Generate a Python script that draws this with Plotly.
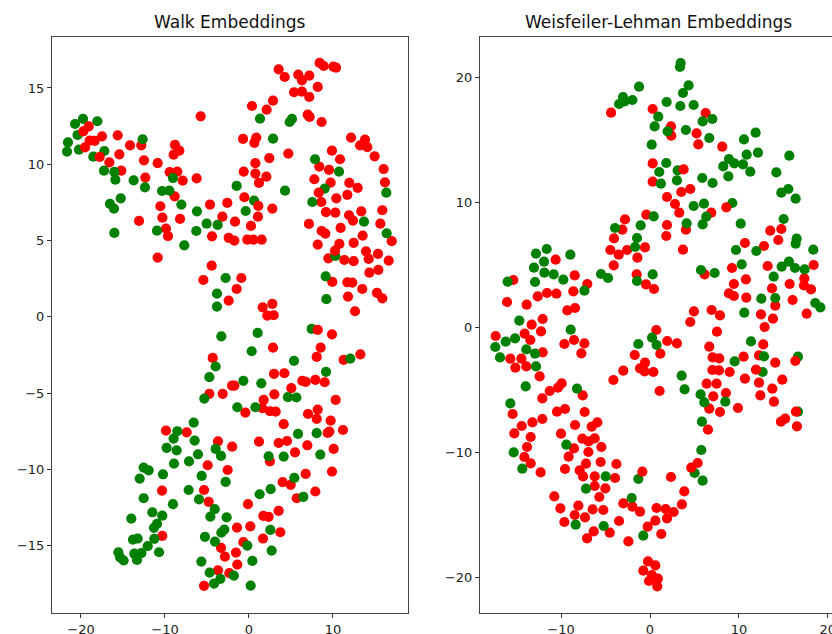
import plotly.graph_objects as go

# ---- Walk Embeddings ----
walk_red_x = [-5.75,-15.63,-18.97,-18.37,-17.5,-14.16,-12.82,-15.43,-16.62,-15.2,-12.5,-10.87,-8.81,-8.29,-8.97,-9.44,-8.53,-7.89,-6.23,-12.34,-8.85,-10.55,-10.31,-8.21,-13.09,-9.88,-9.64,-4.64,-2.58,-3.17,-4.4,-2.42,
 3.53,4.25,5.87,7.18,6.31,8.41,8.89,10.04,10.36,8.18,5.36,6.31,7.18,2.86,0.36,2.1,6.99,7.22,8.65,-0.71,0.87,0.64,4.68,2.42,0.76,-0.63,0.76,2.07,1.19,12.15,13.81,13.22,14.09,9.88,10.84,14.96,16.03,16.19,8.37,9.53,7.78,9.72,11.95,12.94,11.71,10.4,8.61,-0.55,1.07,2.78,-1.66,0.24,9.17,10.28,13.37,15.87,11.91,12.38,15.64,7.14,10.91,8.65,9.09,13.53,-0.2,0.52,1.51,-1.74,
 -10.87,-4.44,-5.43,-2.42,-4.32,-4.72,-3.13,-2.02,
 8.18,10.76,12.46,13.93,15.36,16.99,9.45,11.35,12.46,14.25,16.63,-0.91,14.33,15.4,9.92,11.71,12.3,13.49,-1.47,11.79,15.24,15.87,12.62,1.63,2.78,2.18,2.94,9.88,8.53,2.86,8.06,11.27,13.26,2.98,4.21,6.35,6.75,7.9,9.01,-1.74,5.04,3.02,1.75,10.32,-0.43,1.59,2.5,3.18,8.18,7.03,8.06,9.72,4.13,
 -9.88,-7.42,-3.69,-2.0,-4.92,-2.54,-10.35,-5.35,-4.8,-10.32,-3.33,-2.86,-3.69,-2.34,-5.35,
 11.19,9.57,9.37,1.19,3.53,4.53,6.95,5.48,10.08,2.5,6.75,9.88,4.01,4.96,7.9,5.68,-0.12,3.53,1.71,2.34,-1.43,0.16,3.73,1.67,-0.67,-1.55,-1.39]
walk_red_y = [13.14,11.9,11.55,11.53,11.83,11.24,11.24,10.65,10.13,9.58,10.26,10.07,11.27,10.89,10.63,9.48,9.52,8.93,9.08,9.13,7.9,7.25,6.5,6.42,6.29,5.79,5.3,7.36,7.47,6.57,5.28,5.18,
 16.22,15.72,15.87,15.81,15.5,16.64,16.44,16.4,16.33,15.07,14.72,14.76,14.41,14.17,13.82,13.58,13.25,13.1,12.77,11.66,11.75,11.4,10.7,10.41,10.07,9.52,9.39,9.19,8.78,11.75,11.62,11.24,11.13,10.89,10.33,10.52,9.69,8.82,9.85,9.63,9.02,8.8,8.78,8.45,7.99,7.77,7.53,7.84,6.57,7.1,6.24,5.96,6.86,6.83,6.92,6.99,6.66,6.31,6.11,6.09,5.83,5.63,5.46,5.33,5.06,5.06,5.06,5.0,
 3.89,3.36,2.42,1.07,-2.69,-5.04,-5.04,-4.5,
 4.74,4.78,4.85,4.3,4.13,4.96,3.84,3.73,3.65,3.8,3.69,2.55,2.9,3.08,2.29,2.27,2.25,1.83,1.83,1.33,1.57,1.22,0.37,0.63,0.85,0.09,0.11,-1.14,-2.01,-2.01,-2.62,-2.82,-2.45,-3.73,-3.69,-4.19,-4.26,-4.13,-4.28,-4.5,-4.67,-5.07,-5.44,-5.44,-6.27,-5.98,-6.18,-6.2,-6.07,-6.36,-6.68,-6.79,-7.03,
 -7.45,-7.56,-8.15,-8.5,-9.72,-10.03,-11.38,-11.34,-12.12,-14.35,-15.13,-15.7,-16.6,-16.79,-17.62,
 -7.41,-7.51,-7.6,-8.17,-8.26,-8.13,-8.41,-8.87,-8.65,-9.46,-10.29,-10.13,-10.83,-11.0,-11.44,-11.88,-12.27,-12.71,-13.04,-13.1,-13.8,-13.72,-14.11,-14.52,-14.76,-15.44,-16.23]
walk_green_x = [-19.76,-20.71,-18.05,-20.4,-21.55,-21.66,-20.24,-18.53,-17.22,-12.66,-17.26,-16.03,-15.91,-13.73,-12.38,-10.35,-9.48,-9.05,-8.05,-6.19,-5.04,-3.73,-6.27,-10.95,-16.03,-15.27,-16.55,-16.07,
 1.31,5.12,4.84,2.86,7.86,10.72,-1.47,4.29,9.01,7.54,0.6,-0.39,16.35,13.69,16.39,
 -7.7,-2.78,-3.81,-3.81,-3.29,-3.97,-4.72,-5.32,-6.58,
 10.28,9.13,9.21,1.03,0.32,7.46,5.36,12.07,9.17,-0.67,1.47,4.64,5.64,-1.39,0.76,
 -8.53,-8.97,-6.47,-9.8,-8.61,-6.07,-3.97,-3.33,-7.14,-8.93,-12.54,-11.94,-10.24,-13.01,-5.63,-2.78,-7.18,-5.95,-12.54,-9.05,-11.5,-10.32,-14.01,-4.08,-4.6,-2.66,-10.95,-11.31,-2.93,-3.29,-5.24,-4.05,-13.81,-13.25,-11.27,-12.06,-10.71,-15.55,-13.65,-12.81,-15.35,-14.92,-13.33,-5.67,-4.68,-3.41,-4.16,-1.8,
 5.84,8.06,2.34,4.13,8.49,5.4,2.58,1.27,6.47,2.54,-0.2,2.7,0.4,0.2]
walk_green_y = [12.97,12.64,12.82,11.92,11.44,10.83,10.96,10.5,10.87,11.64,9.58,9.5,8.99,8.95,8.49,8.25,8.28,9.1,7.36,6.92,6.11,6.03,5.63,5.65,5.5,7.77,7.4,7.1,
 12.99,12.97,12.77,11.68,10.33,9.52,8.58,8.27,8.41,7.53,7.62,6.94,8.14,6.24,5.48,
 4.69,2.55,1.53,0.68,-1.27,-3.25,-3.95,-5.35,-6.92,
 3.99,2.66,1.16,-1.05,-2.25,-0.79,-2.88,-2.73,-3.6,-4.19,-4.35,-5.26,-5.28,-5.92,-5.92,
 -7.49,-7.97,-8.1,-8.58,-8.74,-9.0,-8.65,-9.11,-9.46,-9.61,-9.87,-10.05,-10.31,-10.59,-10.42,-10.81,-11.34,-11.95,-11.88,-12.27,-12.8,-13.02,-13.21,-12.6,-13.08,-13.13,-13.56,-13.82,-13.93,-14.13,-14.41,-14.72,-14.59,-14.52,-14.54,-15.02,-15.42,-15.42,-15.51,-15.48,-15.75,-15.96,-15.92,-16.03,-16.75,-17.17,-17.47,-16.95,
 -7.67,-7.62,-9.13,-9.15,-9.02,-10.55,-11.29,-11.62,-11.79,-13.96,-14.98,-15.31,-15.99,-17.6]
walk_top_x = [-19.08,-19.72,-19.52,-17.77,8.3,1.11,8.18,10.24]
walk_top_y = [12.49,12.16,11.11,10.48,8.14,7.27,-0.85,4.34]

# ---- Weisfeiler-Lehman Embeddings ----
wl_red_x = [-4.38,0.3,0.3,0.3,-0.41,-2.81,-3.11,
 6.26,2.36,2.39,5.24,5.43,8.13,4.53,3.52,1.91,2.81,3.29,6.89,1.91,4.04,1.83,13.53,14.77,
 -4.05,-4.46,-3.52,-2.58,-0.56,-1.42,-4.08,-10.61,-8.47,-7.05,-15.37,-1.5,-0.45,0.45,-8.62,-10.53,-11.58,-12.63,-16.08,-13.87,-8.43,-9.3,-12.07,-13.31,-12.26,-14.1,-17.36,-13.46,-9.63,-8.55,-7.38,-12.07,-7.72,-1.72,-15.71,-14.47,-15.14,-13.91,-0.56,-1.12,-0.6,0.38,-3.0,-4.12,-12.41,-9.93,-10.35,-11.28,-12.11,-7.57,-9.56,-10.46,-7.35,-15.45,-12.11,-13.23,-14.43,-5.92,-8.43,-6.56,
 3.71,10.68,12.82,14.43,9.22,13.23,18.41,6.14,10.79,9.44,17.36,15.71,17.32,18.11,13.72,8.88,9.44,10.83,16.04,14.09,17.62,4.94,6.93,7.87,4.53,12.48,13.83,12.89,7.53,0.71,1.94,3.03,1.16,6.67,12.74,7.04,7.79,10.53,12.26,14.09,7.01,7.76,8.96,1.08,6.37,7.49,10.68,12.26,14.88,8.54,7.12,13.76,12.41,13.94,6.67,7.87,9.89,15.2,14.73,16.53,
 -15.26,-10.01,-13.42,-7.61,-6.9,-6.22,-5.47,-13.83,-8.55,-6.93,-14.13,-9.15,-13.42,-7.2,-5.55,-3.78,-12.3,-9.56,-7.91,-7.53,-6.22,-3.93,-6.22,-5.02,-10.76,-5.7,-8.06,-3.0,-1.98,-1.12,-10.08,-6.45,-5.25,-8.47,-7.31,-3.48,-9.63,-0.26,-6.33,-4.53,-7.08,-2.43,-0.22,-0.75,-0.11,
 6.52,2.36,3.86,3.59,0.74,1.76,2.66,1.91,0.6,1.27,0.6,0.89,0.22,0.82]
wl_red_y = [17.15,17.44,13.09,11.63,8.99,8.61,7.79,
 17.12,16.05,15.31,15.49,14.61,14.43,11.04,10.8,10.4,9.84,9.15,9.15,8.16,7.79,7.28,7.71,7.84,
 7.09,6.16,5.79,6.16,6.37,5.55,4.93,5.39,4.13,3.44,3.76,4.21,3.41,3.04,2.85,2.67,2.72,2.45,2.0,1.79,1.52,1.33,0.64,0.19,-0.35,-0.53,-0.72,-1.04,-1.36,-1.04,-1.31,-2.03,-2.11,-2.24,-2.53,-2.53,-3.25,-3.15,-2.85,-3.31,-3.55,-3.6,-3.49,-4.24,-3.95,-4.51,-4.85,-5.12,-5.71,-5.47,-6.56,-6.77,-6.8,-6.96,-7.36,-7.63,-7.92,-7.63,-7.84,-7.97,
 6.19,6.72,6.48,6.96,4.72,4.88,4.96,4.21,3.81,3.44,3.89,3.44,3.33,3.01,3.09,2.69,2.48,2.35,2.16,1.71,1.07,1.25,1.36,0.93,0.4,1.01,0.67,0,-0.37,-0.24,-1.12,-1.31,-2.13,-1.57,-1.39,-2.43,-2.51,-2.37,-2.27,-2.85,-3.44,-3.47,-3.6,-5.12,-4.53,-4.53,-4.13,-4.45,-4.21,-5.28,-5.55,-4.93,-5.47,-5.97,-6.53,-6.8,-6.48,-7.33,-7.57,-7.95,
 -8.51,-8.53,-8.8,-8.93,-9.15,-8.91,-9.6,-9.6,-9.71,-10.0,-10.4,-10.37,-10.91,-10.93,-10.8,-10.96,-11.63,-11.36,-11.47,-11.95,-11.95,-12.08,-12.72,-12.91,-13.55,-13.6,-14.29,-14.11,-14.37,-14.77,-14.51,-14.59,-14.64,-15.04,-15.23,-15.52,-15.6,-15.97,-16.35,-16.45,-16.91,-17.15,-18.75,-19.49,-20.32,
 -8.21,-12.0,-13.15,-14.19,-14.48,-14.56,-14.8,-15.31,-15.49,-16.56,-19.07,-20.13,-19.84,-20.75]
wl_green_x = [-1.23,-3.03,-2.85,-3.48,-1.98,0.19,0.42,-1.05,-3.93,-1.46,
 3.45,3.37,4.34,3.71,1.87,3.41,4.91,0.93,0.52,7.01,5.92,4.04,1.98,6.67,11.88,10.57,10.87,12.14,15.67,8.88,9.48,10.46,8.24,11.28,8.81,14.21,15.56,14.77,16.38,1.83,1.04,3.11,3.03,1.23,5.88,7.04,4.91,6.07,9.26,6.33,5.92,4.12,10.2,15.03,
 -11.62,-12.82,-8.96,-11.92,-13.05,-11.88,-10.83,-12.93,-9.75,-16.01,-5.51,-4.72,-1.46,-7.38,-1.68,0.3,-14.7,-8.92,-15.18,-16.23,-17.4,0.23,-1.31,-13.91,-12.93,-16.87,-12.82,-13.98,-8.21,-15.71,0.75,
 16.49,16.38,18.37,9.67,11.96,10.31,15.63,14.81,16.31,17.39,5.73,7.27,13.91,12.52,14.09,18.59,19.16,10.61,11.36,12.82,9.52,16.64,12.67,3.56,3.89,5.69,6.11,8.47,5.84,16.64,
 -15.33,-9.41,-14.36,-4.98,-1.31,-7.2,-2.06,-8.36,-5.21,-0.75,5.77,5.02,5.92]
wl_green_y = [19.23,18.4,18.05,17.84,18.16,14.59,8.85,8.13,7.92,7.12,
 21.12,20.8,19.33,18.72,18.0,17.68,17.76,16.83,16.05,16.64,16.45,15.76,15.65,15.12,15.55,15.01,13.79,13.95,13.71,13.44,13.09,13.01,12.85,12.43,12.05,12.37,11.04,10.75,10.27,13.12,12.4,12.53,11.73,11.47,11.92,11.52,9.68,9.87,9.92,8.83,8.21,8.29,8.27,8.64,
 6.24,5.87,5.79,5.23,4.75,4.35,4.21,3.6,3.79,3.63,4.24,3.92,3.68,2.91,6.4,4.21,0.51,-0.21,-0.91,-1.17,-1.6,-0.85,-1.36,-1.79,-2.13,-2.43,-3.15,-4.75,-4.93,-6.11,-1.44,
 7.07,6.67,6.19,6.16,6.08,5.01,5.23,4.83,4.72,4.61,4.56,4.32,4.03,2.27,2.32,1.92,1.57,1.15,-1.15,-2.35,-2.75,-2.37,-3.6,-3.89,-4.99,-5.39,-6.03,-5.97,-7.57,-6.77,
 -10.03,-9.41,-11.33,-11.95,-12.16,-12.93,-13.68,-15.81,-15.92,-16.69,-9.84,-11.68,-12.29]
wl_top_x = [8.58,3.78,16.34,16.42,11.92,-0.86,5.36,4.64]
wl_top_y = [9.57,12.61,-2.72,-6.77,-3.41,-11.57,-10.88,-11.25]

walk_xticks = [-20, -10, 0, 10]
walk_yticks = [-15, -10, -5, 0, 5, 10, 15]
wl_xticks = [-10, 0, 10, 20]
wl_yticks = [-20, -10, 0, 10, 20]
titles = ["Walk Embeddings", "Weisfeiler-Lehman Embeddings"]

W, H = 832, 634
RED, GREEN = "#ff0000", "#008000"
FONT = "DejaVu Sans"

fig = go.Figure()


def dots(x, y, color, xa, ya):
    fig.add_trace(go.Scatter(x=x, y=y, mode="markers", xaxis=xa, yaxis=ya,
                             showlegend=False, hoverinfo="skip",
                             marker=dict(color=color, size=10.2, line=dict(width=0))))


dots(walk_red_x, walk_red_y, RED, "x", "y")
dots(walk_green_x, walk_green_y, GREEN, "x", "y")
dots(walk_top_x, walk_top_y, RED, "x", "y")
dots(wl_red_x, wl_red_y, RED, "x2", "y2")
dots(wl_green_x, wl_green_y, GREEN, "x2", "y2")
dots(wl_top_x, wl_top_y, RED, "x2", "y2")

axis = dict(showgrid=False, zeroline=False, showline=True, linecolor="#444444", linewidth=1,
            mirror=True, ticks="outside", ticklen=4, tickwidth=1, tickcolor="#333333",
            tickfont=dict(family=FONT, size=13, color="#222222"), tickmode="array",
            automargin=False, ticklabeloverflow="allow")


def ticks(vals):
    return dict(tickvals=vals, ticktext=[str(v).replace("-", "\u2212") for v in vals])


fig.update_layout(
    width=W, height=H, margin=dict(l=0, r=0, t=0, b=0),
    paper_bgcolor="white", plot_bgcolor="white",
    xaxis=dict(axis, domain=[52 / W, 408 / W], range=[-23.45, 18.93], anchor="y", **ticks(walk_xticks)),
    yaxis=dict(axis, domain=[1 - 613 / H, 1 - 37 / H], range=[-19.4, 18.34], anchor="x", **ticks(walk_yticks)),
    xaxis2=dict(axis, domain=[480 / W, 1], range=[-19.12, 20.47], anchor="y2", **ticks(wl_xticks)),
    yaxis2=dict(axis, domain=[1 - 613 / H, 1 - 37 / H], range=[-22.88, 23.2], anchor="x2", mirror=False,
                **{k: v for k, v in ticks(wl_yticks).items()}) if False else None,
    annotations=[
        dict(text=titles[0], xref="paper", yref="paper", x=230 / W, y=1 - 22 / H, showarrow=False,
             xanchor="center", yanchor="middle", font=dict(family=FONT, size=17, color="#111111")),
        dict(text=titles[1], xref="paper", yref="paper", x=658 / W, y=1 - 22 / H, showarrow=False,
             xanchor="center", yanchor="middle", font=dict(family=FONT, size=17, color="#111111")),
    ],
)
yaxis2_style = {k: v for k, v in axis.items() if k != "mirror"}
fig.update_layout(yaxis2=dict(yaxis2_style, mirror=False, domain=[1 - 613 / H, 1 - 37 / H],
                              range=[-22.88, 23.2], anchor="x2", **ticks(wl_yticks)))

fig.write_html("out.html", config=dict(displayModeBar=False),
               post_script="document.documentElement.style.overflow='hidden';document.body.style.margin='0';")
